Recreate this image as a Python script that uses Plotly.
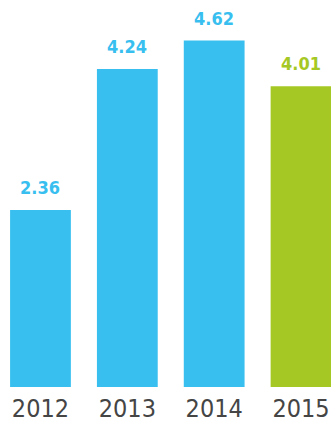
import plotly.graph_objects as go

years = ["2012", "2013", "2014", "2015"]
values = [2.36, 4.24, 4.62, 4.01]
labels = ["2.36", "4.24", "4.62", "4.01"]
colors = ["#38bfef", "#38bfef", "#38bfef", "#a6c824"]

FONT = "DejaVu Sans Condensed, Liberation Sans Narrow, DejaVu Sans"

fig = go.Figure()
fig.add_trace(go.Bar(
    x=years, y=values, marker=dict(color=colors, line=dict(width=0)),
    width=0.70, hoverinfo="skip",
))

for i, (v, lab, c) in enumerate(zip(values, labels, colors)):
    fig.add_annotation(x=i, y=v, text="<b>%s</b>" % lab, showarrow=False,
                       yanchor="bottom", yshift=10,
                       font=dict(family=FONT, size=18, color=c))

fig.update_layout(
    width=331, height=422,
    margin=dict(l=0, r=0, t=0, b=35, autoexpand=False),
    paper_bgcolor="white", plot_bgcolor="white",
    showlegend=False,
    xaxis=dict(type="category", range=[-0.466, 3.345], showgrid=False,
               showline=False, zeroline=False, ticks="", ticklabelstandoff=4,
               automargin=False,
               tickfont=dict(family=FONT, size=25, color="#454545")),
    yaxis=dict(range=[0, 5.16], visible=False, automargin=False),
)
fig.write_html("out.html")
